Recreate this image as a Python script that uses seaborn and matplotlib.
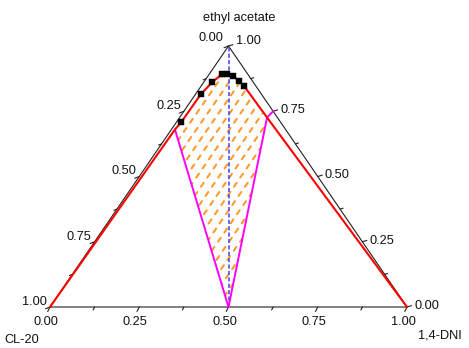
import numpy as np
import pandas as pd
import matplotlib
matplotlib.use("Agg")
import matplotlib.pyplot as plt
from matplotlib.patches import Polygon
import seaborn as sns

# ---- data: mass fractions w(1,4-DNI), w(ethyl acetate); w(CL-20) = 1 - both ----
curve_dni = [0.000, 0.010, 0.0135, 0.015, 0.024, 0.036, 0.050, 0.070, 0.096, 0.120, 0.245, 1.000]
curve_ea = [0.000, 0.680, 0.707, 0.816, 0.862, 0.893, 0.893, 0.886, 0.866, 0.847, 0.726, 0.000]

exp_dni = [0.0135, 0.015, 0.024, 0.036, 0.050, 0.070, 0.096, 0.120]
exp_ea = [0.707, 0.816, 0.862, 0.893, 0.893, 0.886, 0.866, 0.847]

tie_left_dni = [0.500, 0.010]
tie_left_ea = [0.000, 0.680]
tie_right_dni = [0.500, 0.245, 0.250]
tie_right_ea = [0.000, 0.726, 0.750]

ratio_dni = [0.500, 0.000]   # 1:1 line from apex to base
ratio_ea = [0.000, 1.000]

tick_vals = [0.00, 0.25, 0.50, 0.75, 1.00]
tick_labels = ["0.00", "0.25", "0.50", "0.75", "1.00"]
minor_vals = [0.125, 0.375, 0.625, 0.875]

axis_names = ["ethyl acetate", "CL-20", "1,4-DNI"]

# ---- helpers ----
def tern(dni, ea):
    dni = np.asarray(dni, float)
    ea = np.asarray(ea, float)
    return dni + ea / 2.0, ea

SX, SY = 357.0, 261.0  # pixels per data unit


def px(dx, dy):
    return dx / SX, dy / SY


sns.set_theme(style="white")
plt.rcParams["font.family"] = ["Liberation Sans", "DejaVu Sans"]
plt.rcParams["lines.scale_dashes"] = False
FS = 9.2

fig = plt.figure(figsize=(4.69, 3.48), dpi=100)
ax = fig.add_axes([0, 0, 1, 1])
ax.set_xlim(-50 / SX, 419 / SX)
ax.set_ylim(-41 / SY, 307 / SY)
ax.axis("off")

# triangle frame
fx, fy = tern([0, 1, 0, 0], [0, 0, 1, 0])
ax.plot(fx, fy, color="#202020", lw=0.8, zorder=2)

# ticks
for v in tick_vals + minor_vals:
    major = v in tick_vals
    L = 4.5 if major else 3.0
    # bottom (1,4-DNI)
    x0, y0 = tern(v, 0)
    dx, dy = px(-0.5 * L, -L)
    ax.plot([x0, x0 + dx], [y0, y0 + dy], color="#202020", lw=0.8, zorder=2)
    # left (CL-20)
    x0, y0 = tern(0, 1 - v)
    dx, dy = px(-L, -0.4 * L)
    ax.plot([x0, x0 + dx], [y0, y0 + dy], color="#202020", lw=0.8, zorder=2)
    # right (ethyl acetate)
    x0, y0 = tern(1 - v, v)
    dx, dy = px(L, 0.3 * L)
    ax.plot([x0, x0 + dx], [y0, y0 + dy], color="#202020", lw=0.8, zorder=2)

# tick labels
for v, t in zip(tick_vals, tick_labels):
    x0, y0 = tern(v, 0)
    ax.annotate(t, (x0, y0), xytext=(-4, -15), textcoords="offset pixels",
                ha="center", va="center", fontsize=FS, color="#111111")
    x0, y0 = tern(0, 1 - v)
    off = (-5, 8) if v == 0 else (-3, 5)
    ax.annotate(t, (x0, y0), xytext=off, textcoords="offset pixels",
                ha="right", va="center", fontsize=FS, color="#111111")
    x0, y0 = tern(1 - v, v)
    off = (7, 5) if v == 1 else (7, 1)
    ax.annotate(t, (x0, y0), xytext=off, textcoords="offset pixels",
                ha="left", va="center", fontsize=FS, color="#111111")

# axis names
fig.text(239.5 / 469, 1 - 17.5 / 348, axis_names[0], ha="center", va="center", fontsize=FS, color="#111111")
fig.text(21.5 / 469, 1 - 340 / 348, axis_names[1], ha="center", va="center", fontsize=FS, color="#111111")
fig.text(440 / 469, 1 - 336 / 348, axis_names[2], ha="center", va="center", fontsize=FS, color="#111111")

# hatched region (clipped dashed lines)
reg_dni = [tie_left_dni[0], tie_left_dni[1]] + exp_dni + [tie_right_dni[1]]
reg_ea = [tie_left_ea[0], tie_left_ea[1]] + exp_ea + [tie_right_ea[1]]
rx, ry = tern(reg_dni, reg_ea)
clip = Polygon(np.column_stack([rx, ry]), closed=True, facecolor="none", edgecolor="none")
ax.add_patch(clip)
slope = 1.45 * SX / SY
for c in np.arange(-1.0, 1.3, 11.0 / SX):
    ys = np.array([-0.1, 1.1])
    xs = c + (ys + 0.1) / slope
    ln, = ax.plot(xs, ys, color="#ff9a30", lw=1.5, linestyle=(0, (3.4, 4.6)),
                  dash_capstyle="round", zorder=3)
    ln.set_clip_path(clip)

# 1:1 dashed line
bx, by = tern(ratio_dni, ratio_ea)
ax.plot(bx, by, color="#4f4fef", lw=1.2, linestyle=(0, (3.0, 1.6)), zorder=4)

# tie lines
lx, ly = tern(tie_left_dni, tie_left_ea)
ax.plot(lx, ly, color="#ff00ff", lw=1.4, zorder=5)
tx, ty = tern(tie_right_dni, tie_right_ea)
ax.plot(tx, ty, color="#ff00ff", lw=1.4, zorder=5)

# solubility curve
cx, cy = tern(curve_dni, curve_ea)
df_curve = pd.DataFrame({"x": cx, "y": cy})
sns.lineplot(data=df_curve, x="x", y="y", sort=False, estimator=None,
             color="#ff0000", lw=1.5, ax=ax, zorder=6)

# experimental points
ex, ey = tern(exp_dni, exp_ea)
df_exp = pd.DataFrame({"x": ex, "y": ey})
sns.scatterplot(data=df_exp, x="x", y="y", marker="s", s=16, color="black",
                edgecolor="black", linewidth=0.3, ax=ax, zorder=7)

ax.set_xlim(-50 / SX, 419 / SX)
ax.set_ylim(-41 / SY, 307 / SY)
ax.axis("off")
fig.savefig("out.png", dpi=100)
